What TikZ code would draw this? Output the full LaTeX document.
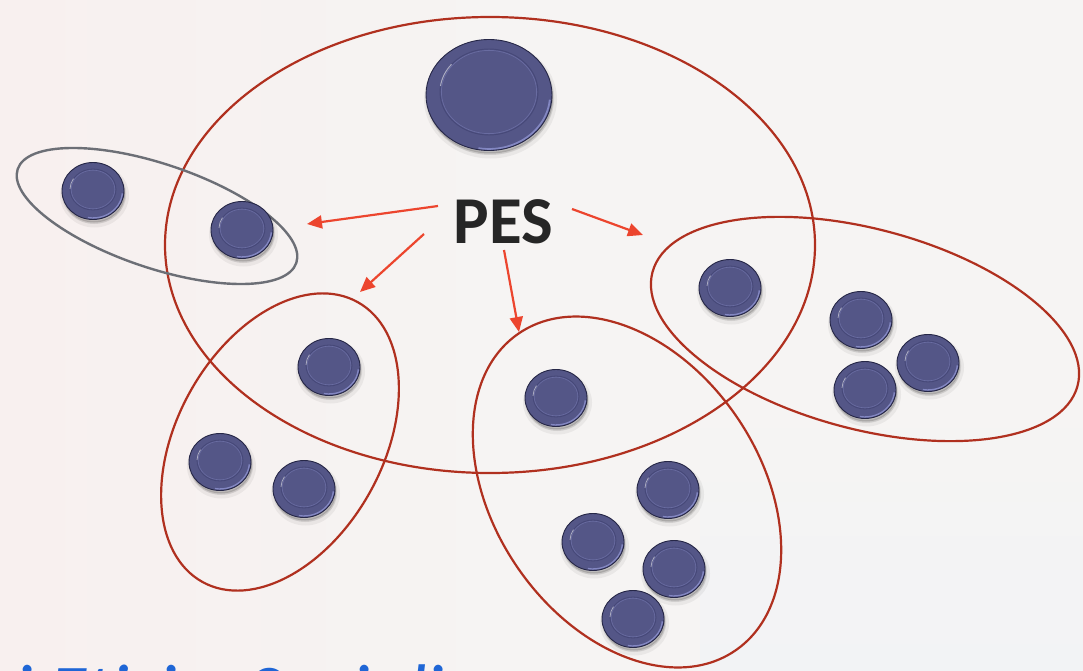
\documentclass[tikz,border=0pt]{standalone}
\usepackage{fontspec}
\setmainfont{Carlito}
\usetikzlibrary{shapes.geometric,arrows.meta}

\definecolor{bgcol}{HTML}{F6F4F3}
\definecolor{bgwarm}{HTML}{F9F0EF}
\definecolor{bgcool}{HTML}{F1F3F7}
\definecolor{ringred}{HTML}{B0301F}
\definecolor{ringgray}{HTML}{6C6F76}
\definecolor{arrowred}{HTML}{EC452E}
\definecolor{platefill}{HTML}{545687}
\definecolor{plateedge}{HTML}{262747}
\definecolor{plateline}{HTML}{464878}
\definecolor{platehi}{HTML}{8387C2}
\definecolor{labeldark}{HTML}{262626}
\definecolor{textblue}{HTML}{1F66D6}

\tikzset{
  plateshadow/.style={
    preaction={fill=black, fill opacity=0.05, draw=black, draw opacity=0.05,
      line width=7pt, transform canvas={xshift=1.5pt, yshift=-4.5pt}},
    preaction={fill=black, fill opacity=0.16, draw=black, draw opacity=0.08,
      line width=2.5pt, transform canvas={xshift=1pt, yshift=-3pt}}},
  platebase/.style={ellipse, inner sep=0pt, fill=platefill, draw=plateedge,
    line width=0.9pt, plateshadow},
  smallplate/.style={platebase, minimum width=62pt, minimum height=57pt,
    path picture={
      \coordinate (pc) at (path picture bounding box.center);
      \draw[plateline, line width=0.8pt] ([yshift=1.5pt]pc)
        ellipse [x radius=23pt, y radius=20.5pt];
      \draw[platehi, line width=0.6pt, opacity=0.45] ([yshift=1.5pt]pc)
        ellipse [x radius=21.8pt, y radius=19.3pt];
      \draw[platehi, line width=1.4pt]
        ([shift={(-100:29.5pt and 27pt)}]pc)
        arc [start angle=-100, end angle=-5, x radius=29.5pt, y radius=27pt];
      \draw[white, opacity=0.55, line width=0.8pt]
        ([shift={(148:23pt and 20.5pt)}, yshift=1.5pt]pc)
        arc [start angle=148, end angle=178, x radius=23pt, y radius=20.5pt];
    }},
  bigplate/.style={platebase, minimum width=126pt, minimum height=111pt,
    path picture={
      \coordinate (pc) at (path picture bounding box.center);
      \draw[plateline, line width=0.9pt] ([yshift=3pt]pc)
        ellipse [x radius=49pt, y radius=43pt];
      \draw[platehi, line width=0.7pt, opacity=0.45] ([yshift=3pt]pc)
        ellipse [x radius=47.6pt, y radius=41.6pt];
      \draw[platehi, line width=1.8pt]
        ([shift={(-100:61pt and 54pt)}]pc)
        arc [start angle=-100, end angle=-5, x radius=61pt, y radius=54pt];
      \draw[white, opacity=0.55, line width=1pt]
        ([shift={(140:49pt and 43pt)}, yshift=3pt]pc)
        arc [start angle=140, end angle=172, x radius=49pt, y radius=43pt];
    }},
  redring/.style={draw=ringred, line width=2.2pt},
  grayring/.style={draw=ringgray, line width=2.4pt},
  arr/.style={draw=arrowred, line width=2.2pt,
    -{Triangle[length=15pt, width=13pt]}},
}

\begin{document}
\begin{tikzpicture}[x=1pt, y=-1pt]
\useasboundingbox (0,0) rectangle (1083,671);
\clip (0,0) rectangle (1083,671);

% paper background
\fill[bgcol] (0,0) rectangle (1083,671);
\shade[left color=bgwarm, right color=bgcol, opacity=0.8] (0,0) rectangle (520,671);
\shade[top color=bgcol, bottom color=bgcool, opacity=0.7] (700,400) rectangle (1083,671);

% group outlines
\draw[redring] (490,245) ellipse [x radius=325, y radius=228];
\draw[grayring, rotate around={-18.6:(157,216)}] (157,216)
  ellipse [x radius=147, y radius=52];
\draw[redring, rotate around={61:(280,442)}] (280,442)
  ellipse [x radius=160, y radius=103];
\draw[redring, rotate around={-55.7:(627,492)}] (627,492)
  ellipse [x radius=192, y radius=133];
\draw[redring, rotate around={-15:(865,329)}] (865,329)
  ellipse [x radius=220, y radius=100];

% plates
\node[bigplate] (hub) at (489,95) {};
\node[smallplate] (p1) at (93,191) {};
\node[smallplate] (p2) at (242,230) {};
\node[smallplate] (p3) at (329,367) {};
\node[smallplate] (p4) at (220,462) {};
\node[smallplate] (p5) at (304,489) {};
\node[smallplate] (p6) at (556,398) {};
\node[smallplate] (p7) at (668,490) {};
\node[smallplate] (p8) at (593,542) {};
\node[smallplate] (p9) at (674,569) {};
\node[smallplate] (p10) at (633,619) {};
\node[smallplate] (p11) at (730,288) {};
\node[smallplate] (p12) at (861,320) {};
\node[smallplate] (p13) at (928,363) {};
\node[smallplate] (p14) at (865,390) {};

% central label and its arrows
\node[inner sep=0pt, text=labeldark,
  font=\bfseries\fontsize{67}{67}\selectfont] (pes) at (503.5,221.5) {PES};

\coordinate (s1) at (438,206);  \coordinate (t1) at (307,224);
\coordinate (s2) at (424,234);  \coordinate (t2) at (360,292);
\coordinate (s3) at (504,250);  \coordinate (t3) at (519,332);
\coordinate (s4) at (572,209);  \coordinate (t4) at (643,235);
\draw[arr] (s1) -- (t1);
\draw[arr] (s2) -- (t2);
\draw[arr] (s3) -- (t3);
\draw[arr] (s4) -- (t4);

% running footer text, mostly below the lower edge
\node[anchor=base west, inner sep=0pt, text=textblue,
  font=\itshape\fontsize{76}{76}\selectfont] (footer) at (15,717)
  {i Etici e Sociali};
\end{tikzpicture}
\end{document}
